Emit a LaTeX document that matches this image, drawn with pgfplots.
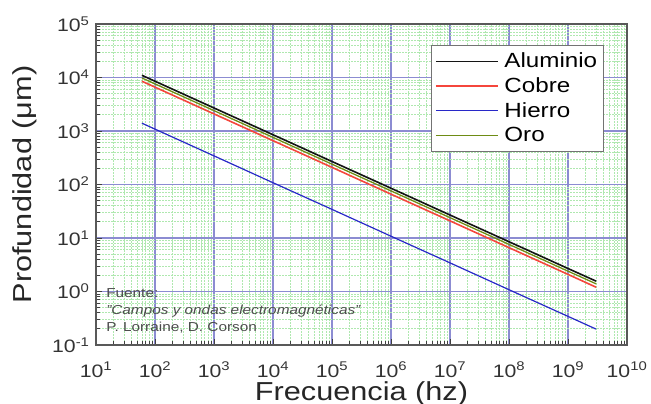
\documentclass[border=0pt]{standalone}
\usepackage{pgfplots}
\pgfplotsset{compat=1.18}
\usepackage{fontspec}
\setmainfont{Liberation Sans}[FakeStretch=1.18]

\definecolor{majgrid}{RGB}{140,140,210}
\definecolor{mingrid}{RGB}{175,232,175}
\definecolor{alum}{RGB}{20,20,20}
\definecolor{cobre}{RGB}{245,70,60}
\definecolor{hierro}{RGB}{40,40,200}
\definecolor{oro}{RGB}{110,140,20}

\begin{document}
\begin{tikzpicture}
\begin{axis}[
    scale only axis,
    width=531bp, height=321bp,
    xmode=log, ymode=log,
    xmin=1e1, xmax=1e10,
    ymin=1e-1, ymax=1e5,
    xtick={1e1,1e2,1e3,1e4,1e5,1e6,1e7,1e8,1e9,1e10},
    xticklabels={10\textsuperscript{1},10\textsuperscript{2},10\textsuperscript{3},10\textsuperscript{4},10\textsuperscript{5},10\textsuperscript{6},10\textsuperscript{7},10\textsuperscript{8},10\textsuperscript{9},10\textsuperscript{10}},
    ytick={1e-1,1e0,1e1,1e2,1e3,1e4,1e5},
    yticklabels={10\textsuperscript{-1},10\textsuperscript{0},10\textsuperscript{1},10\textsuperscript{2},10\textsuperscript{3},10\textsuperscript{4},10\textsuperscript{5}},
    xtick pos=left, ytick pos=left,
    tick align=inside,
    major tick length=6bp, minor tick length=4bp,
    tick style={black!75, line width=0.8pt},
    grid=both,
    major grid style={majgrid, line width=1.1pt},
    minor grid style={mingrid, dash pattern=on 2bp off 1bp, line width=0.8pt},
    axis line style={black!65, line width=1.2pt},
    ticklabel style={font=\fontsize{18bp}{20bp}\selectfont, text=black!80},
    xticklabel style={anchor=base, yshift=-32bp},
    yticklabel style={anchor=east, xshift=-3bp},
    xlabel={Frecuencia (hz)},
    ylabel={Profundidad (μm)},
    label style={font=\fontsize{26bp}{28bp}\selectfont, text=black!85},
    xlabel style={at={(axis description cs:0.5,0)}, anchor=base, yshift=-55bp},
    ylabel style={at={(axis description cs:-0.1337,0.5)}, anchor=center},
    legend style={at={(0.956,0.936)}, anchor=north east,
        font=\fontsize{20.5bp}{22bp}\selectfont,
        draw=black!55, line width=0.9pt, fill=white,
        row sep=4.5bp, column sep=4bp, inner xsep=4bp, inner ysep=6bp},
    legend cell align=left,
    legend image code/.code={\draw[#1, line width=1.2pt] (0bp,0bp) -- (62bp,0bp);},
]
\coordinate (ll) at (rel axis cs:0,0);
% Aluminio
\addplot[alum, line width=1.6pt] coordinates {
    (60,11000) (1e2,8520) (1e3,2694) (1e4,852) (1e5,269) (1e6,85.2)
    (1e7,26.9) (1e8,8.52) (1e9,2.69) (3e9,1.56)
};
% Cobre
\addplot[cobre, line width=1.6pt] coordinates {
    (60,8520) (1e2,6600) (1e3,2087) (1e4,660) (1e5,209) (1e6,66)
    (1e7,20.9) (1e8,6.6) (1e9,2.09) (3e9,1.2)
};
% Hierro
\addplot[hierro, line width=1.2pt] coordinates {
    (60,1400) (1e2,1084) (1e3,343) (1e4,108) (1e5,34.3) (1e6,10.8)
    (1e7,3.43) (1e8,1.08) (1e9,0.343) (3e9,0.198)
};
% Oro
\addplot[oro, line width=1.3pt] coordinates {
    (60,9810) (1e2,7600) (1e3,2403) (1e4,760) (1e5,240) (1e6,76)
    (1e7,24) (1e8,7.6) (1e9,2.4) (3e9,1.39)
};
\legend{Aluminio, Cobre, Hierro, Oro}
\node[anchor=north west, align=left, inner sep=0pt,
      font=\fontsize{13bp}{17bp}\selectfont, text=black!70]
    at (axis description cs:0.019,0.175)
    {Fuente:\\ \textit{"Campos y ondas electromagnéticas"}\\ P. Lorraine, D. Corson};
\end{axis}
\pgfresetboundingbox
\path[use as bounding box] ([shift={(-96bp,-59bp)}]ll) rectangle ++(651bp,404bp);
\end{tikzpicture}
\end{document}
